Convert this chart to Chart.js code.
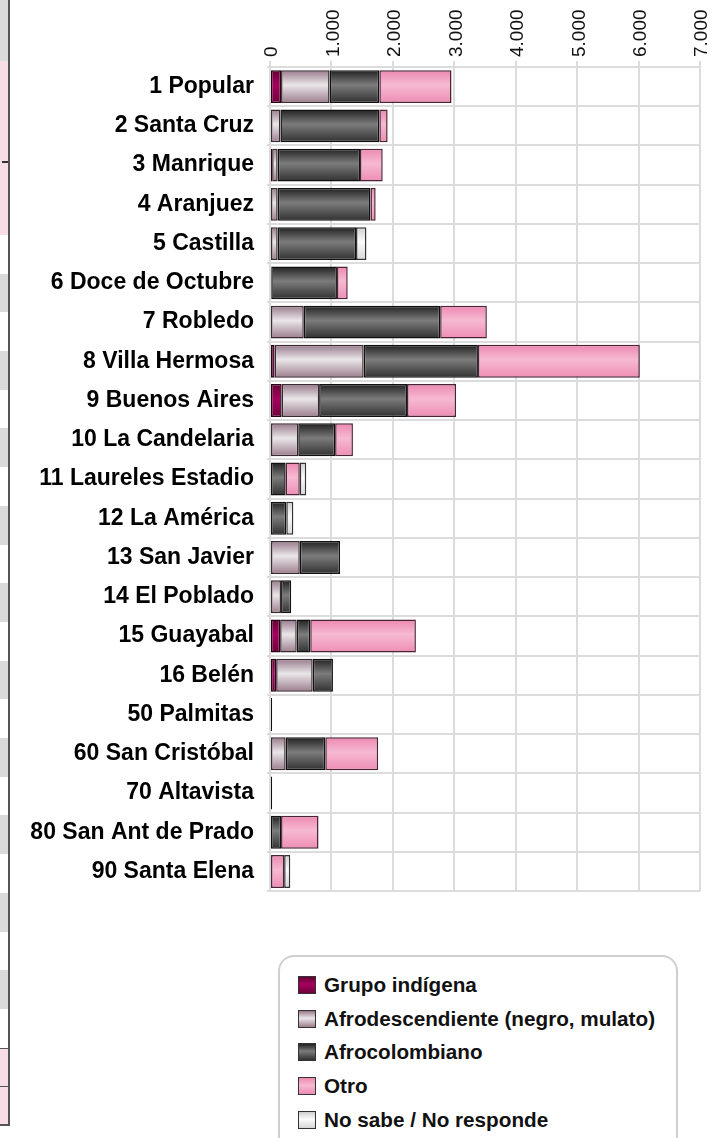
<!DOCTYPE html>
<html>
<head>
<meta charset="utf-8">
<script src="https://cdn.jsdelivr.net/npm/chart.js@4.4.1/dist/chart.umd.min.js"></script>
<style>
  html, body { margin: 0; padding: 0; background: #fff; }
  body { width: 723px; height: 1138px; position: relative; overflow: hidden; font-family: "Liberation Sans", Arial, sans-serif; }
  #wrap { position: absolute; left: 0; top: 0; width: 723px; height: 918px; }
  /* bit of the neighbouring table that shows at the left edge */
  #strip { position: absolute; left: 0; top: 0; width: 8px; height: 1124px; border-right: 2px solid #555; border-bottom: 2px solid #555; }
  #strip div { position: absolute; left: 0; width: 8px; }
  #legend { position: absolute; left: 278px; top: 955px; width: 400px; height: 220px; border: 2px solid #cfcfcf; border-radius: 16px; box-sizing: border-box; }
  .item { position: absolute; left: 18px; height: 20px; display: flex; align-items: center; font-weight: bold; font-size: 20.7px; color: #111; white-space: nowrap; }
  .sw { width: 16px; height: 16px; border: 1px solid #333; margin-right: 8px; }
</style>
</head>
<body>
<div id="strip">
  <div style="top:0;height:61px;background:#dadada"></div>
  <div style="top:61px;height:175px;background:#f9dde6;border-bottom:2px solid #444"></div>
  <div style="top:161px;left:2px;width:6px;height:2px;background:#333"></div>
  <div style="top:235px;height:813px;background:repeating-linear-gradient(to bottom,#fff 0px,#fff 38.7px,#dadada 38.7px,#dadada 77.4px)"></div>
  <div style="top:1048px;height:37px;background:#f9dde6;border-top:1px solid #555;border-bottom:2px solid #555"></div>
  <div style="top:1087px;height:37px;background:#f9dde6"></div>
</div>
<div id="wrap"><canvas id="c"></canvas></div>
<div id="legend"></div>
<script>
const categories = ['1 Popular', '2 Santa Cruz', '3 Manrique', '4 Aranjuez', '5 Castilla',
  '6 Doce de Octubre', '7 Robledo', '8 Villa Hermosa', '9 Buenos Aires', '10 La Candelaria',
  '11 Laureles Estadio', '12 La América', '13 San Javier', '14 El Poblado', '15 Guayabal',
  '16 Belén', '50 Palmitas', '60 San Cristóbal', '70 Altavista', '80 San Ant de Prado', '90 Santa Elena'];

const seriesNames = ['Grupo indígena', 'Afrodescendiente (negro, mulato)', 'Afrocolombiano', 'Otro', 'No sabe / No responde'];

const indigena = [180, 0, 35, 0, 0, 0, 0, 75, 190, 0, 0, 0, 0, 0, 165, 100, 0, 0, 0, 0, 0];
const afrodescendiente = [790, 170, 90, 125, 125, 20, 550, 1450, 610, 460, 0, 0, 485, 180, 270, 595, 0, 255, 0, 0, 0];
const afrocolombiano = [810, 1610, 1340, 1510, 1275, 1070, 2220, 1860, 1430, 600, 255, 265, 655, 165, 220, 330, 35, 645, 35, 180, 0];
const otro = [1175, 135, 370, 85, 0, 175, 760, 2635, 800, 290, 230, 0, 0, 0, 1720, 0, 0, 860, 0, 610, 230];
const noSabe = [0, 0, 0, 0, 170, 0, 0, 0, 0, 0, 105, 115, 0, 0, 0, 0, 0, 0, 0, 0, 100];

const xTicks = [0, 1000, 2000, 3000, 4000, 5000, 6000, 7000];

// edge / middle / edge colours for the glossy bars
const shades = [
  ['#640034', '#a8005e', '#6e003a'],
  ['#98798a', '#e9e6e8', '#9c7c8c'],
  ['#202020', '#7c7c7c', '#303030'],
  ['#ec88b0', '#f6b9d2', '#ee8cb3'],
  ['#cfcfcf', '#fbfbfb', '#d6d6d6']
];
const borders = ['#2a0015', '#3a2a32', '#111111', '#4a2336', '#333333'];

const BAR_H = 33;

function glossy(cols) {
  return function(ctx) {
    const chart = ctx.chart;
    if (!chart.chartArea || ctx.dataIndex === undefined || !chart.scales.y) return cols[1];
    const y = chart.scales.y.getPixelForValue(ctx.dataIndex);
    const g = chart.ctx.createLinearGradient(0, y - BAR_H / 2, 0, y + BAR_H / 2);
    g.addColorStop(0, cols[0]);
    g.addColorStop(0.45, cols[1]);
    g.addColorStop(1, cols[2]);
    return g;
  };
}

const values = [indigena, afrodescendiente, afrocolombiano, otro, noSabe];

const datasets = values.map((d, i) => ({
  label: seriesNames[i],
  data: d,
  backgroundColor: glossy(shades[i]),
  borderColor: borders[i],
  borderWidth: 1.5,
  borderSkipped: false,
  barPercentage: 0.84,
  categoryPercentage: 1
}));

const fmt = v => String(v).replace(/\B(?=(\d{3})+(?!\d))/g, '.');

new Chart(document.getElementById('c'), {
  type: 'bar',
  data: { labels: categories, datasets: datasets },
  options: {
    indexAxis: 'y',
    responsive: true,
    maintainAspectRatio: false,
    animation: false,
    layout: { padding: { left: 0, right: 23, top: 0, bottom: 10 } },
    plugins: { legend: { display: false }, tooltip: { enabled: false } },
    scales: {
      x: {
        position: 'top',
        stacked: true,
        min: 0,
        max: 7000,
        afterBuildTicks: s => { s.ticks = xTicks.map(v => ({ value: v })); },
        afterFit: s => { s.height = 67; },
        ticks: {
          minRotation: 90,
          maxRotation: 90,
          padding: 4,
          labelOffset: 25,
          color: '#111',
          font: { family: 'Liberation Sans', size: 19 },
          callback: v => fmt(v)
        },
        grid: { color: '#dcdcdc', lineWidth: 2, tickLength: 6 },
        border: { display: false }
      },
      y: {
        stacked: true,
        afterFit: s => { s.width = 270; },
        ticks: {
          padding: 13,
          color: '#000',
          font: { family: 'Liberation Sans', size: 23, weight: 'bold' }
        },
        grid: { color: '#dcdcdc', lineWidth: 2, drawTicks: true, tickLength: 3, offset: true },
        border: { color: '#dcdcdc', width: 2 }
      }
    }
  }
});

// legend box built from the same series
const leg = document.getElementById('legend');
seriesNames.forEach((name, i) => {
  const it = document.createElement('div');
  it.className = 'item';
  it.style.top = (18 + i * 33.7) + 'px';
  const sw = document.createElement('span');
  sw.className = 'sw';
  sw.style.background = 'linear-gradient(to bottom,' + shades[i][0] + ',' + shades[i][1] + ' 45%,' + shades[i][2] + ')';
  it.appendChild(sw);
  it.appendChild(document.createTextNode(name));
  leg.appendChild(it);
});
</script>
</body>
</html>
